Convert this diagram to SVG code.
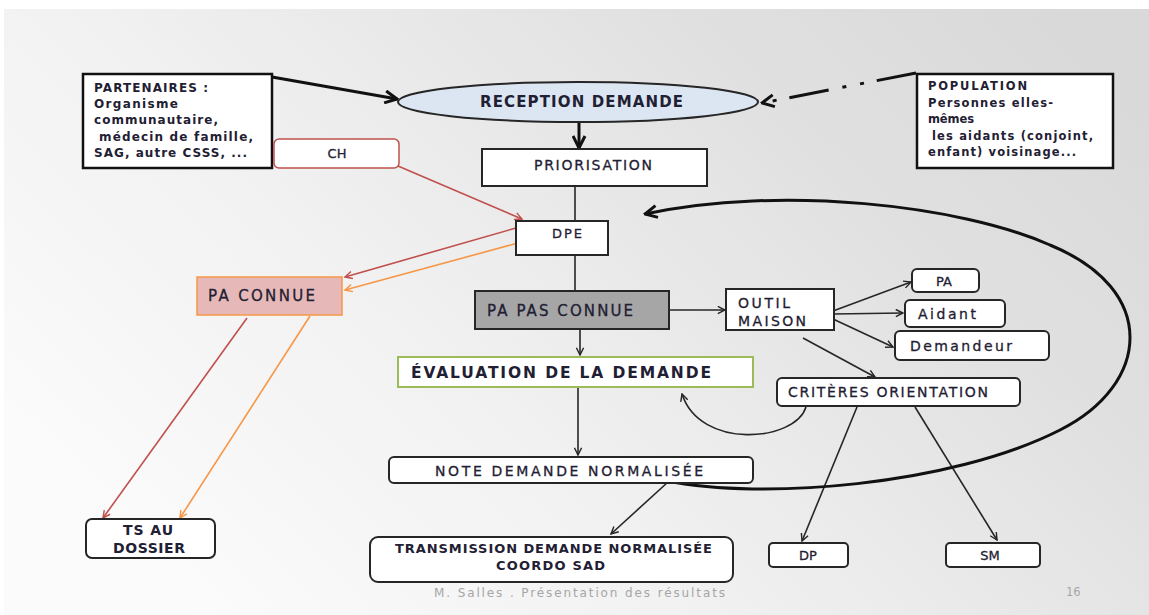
<svg xmlns="http://www.w3.org/2000/svg" width="1149" height="615" viewBox="0 0 1149 615">
  <defs>
    <linearGradient id="bg" x1="0" y1="0.7" x2="1" y2="0.15">
      <stop offset="0" stop-color="#fbfbfb"/>
      <stop offset="0.35" stop-color="#f1f1f1"/>
      <stop offset="0.75" stop-color="#e0e0e0"/>
      <stop offset="1" stop-color="#d9d9d9"/>
    </linearGradient>
    <!-- open V arrowheads -->
    <marker id="ahThin" viewBox="0 0 10 10" refX="9" refY="5" markerWidth="9" markerHeight="9" markerUnits="userSpaceOnUse" orient="auto">
      <path d="M1,1 L9,5 L1,9" fill="none" stroke="#262626" stroke-width="1.6"/>
    </marker>
    <marker id="ahThick" viewBox="0 0 10 10" refX="9" refY="5" markerWidth="15" markerHeight="15" markerUnits="userSpaceOnUse" orient="auto">
      <path d="M1,1 L9,5 L1,9" fill="none" stroke="#111" stroke-width="2"/>
    </marker>
    <marker id="ahRed" viewBox="0 0 10 10" refX="9" refY="5" markerWidth="9" markerHeight="9" markerUnits="userSpaceOnUse" orient="auto">
      <path d="M1,1 L9,5 L1,9" fill="none" stroke="#c0504d" stroke-width="1.6"/>
    </marker>
    <marker id="ahOrange" viewBox="0 0 10 10" refX="9" refY="5" markerWidth="9" markerHeight="9" markerUnits="userSpaceOnUse" orient="auto">
      <path d="M1,1 L9,5 L1,9" fill="none" stroke="#f79646" stroke-width="1.6"/>
    </marker>
    <style>
      .box{fill:#fff;stroke:#262626;stroke-width:2}
      .t{font-family:"DejaVu Sans","Liberation Sans",sans-serif;fill:#1f2033}
      .b{font-weight:bold}
      .m{stroke:#1f2033;stroke-width:0.3}
      .ln{fill:none;stroke:#262626;stroke-width:1.6}
      .thick{fill:none;stroke:#111;stroke-width:3}
      .red{fill:none;stroke:#c0504d;stroke-width:1.6}
      .orange{fill:none;stroke:#f79646;stroke-width:1.6}
      .foot{font-family:"DejaVu Sans","Liberation Sans",sans-serif;fill:#a6a6a6}
    </style>
  </defs>

  <!-- slide background -->
  <rect x="0" y="0" width="1149" height="615" fill="#fff"/>
  <rect x="4" y="9" width="1145" height="606" fill="url(#bg)"/>

  <g id="connectors">
    <path class="thick" d="M272,77 L397,99" marker-end="url(#ahThick)"/>
    <path class="thick" d="M916,73 L762,103" stroke-dasharray="40 13 4 14 4 14" marker-end="url(#ahThick)"/>
    <path class="thick" d="M579,123 L579,148" marker-end="url(#ahThick)"/>
    <path class="ln" d="M575,186 L575,292"/>
    <path class="red" d="M398,166 L522,219" marker-end="url(#ahRed)"/>
    <path class="red" d="M516,228 L345,277" marker-end="url(#ahRed)"/>
    <path class="orange" d="M518,243 L345,290" marker-end="url(#ahOrange)"/>
    <path class="red" d="M247,318 L103,518" marker-end="url(#ahRed)"/>
    <path class="orange" d="M310,316 L180,518" marker-end="url(#ahOrange)"/>
    <path class="ln" d="M669,310 L725,310" marker-end="url(#ahThin)"/>
    <path class="ln" d="M580,329 L580,355" marker-end="url(#ahThin)"/>
    <path class="ln" d="M578,387 L578,455" marker-end="url(#ahThin)"/>
    <path class="ln" d="M668,482 L611,534" marker-end="url(#ahThin)"/>
    <path class="ln" d="M833,311 L911,282" marker-end="url(#ahThin)"/>
    <path class="ln" d="M833,314 L903,313" marker-end="url(#ahThin)"/>
    <path class="ln" d="M833,319 L893,347" marker-end="url(#ahThin)"/>
    <path class="ln" d="M803,338 L875,377" marker-end="url(#ahThin)"/>
    <path class="ln" d="M806,407 C795,442 700,450 682,394" marker-end="url(#ahThin)"/>
    <path class="ln" d="M857,407 L802,541" marker-end="url(#ahThin)"/>
    <path class="ln" d="M915,407 L997,540" marker-end="url(#ahThin)"/>
    <path class="thick" d="M668,481 C760,500 950,486 1060,430 C1150,385 1160,290 1050,245 C960,205 780,185 645,214" marker-end="url(#ahThick)"/>
  </g>

  <g id="partenaires">
    <rect x="83" y="74" width="189" height="94" fill="#fff" stroke="#111" stroke-width="2.5"/>
    <text class="t b" font-size="12" x="94" y="92" textLength="114">PARTENAIRES :</text>
    <text class="t b" font-size="12" x="94" y="108" textLength="84">Organisme</text>
    <text class="t b" font-size="12" x="94" y="124" textLength="124">communautaire,</text>
    <text class="t b" font-size="12" x="99" y="141" textLength="154">médecin  de famille,</text>
    <text class="t b" font-size="12" x="94" y="157" textLength="153">SAG, autre CSSS, ...</text>
  </g>

  <g id="ch">
    <rect x="274" y="139" width="125" height="29" rx="5" fill="#fff" stroke="#c0504d" stroke-width="1.5"/>
    <text class="t m" font-size="13" x="337" y="158" text-anchor="middle">CH</text>
  </g>

  <g id="reception">
    <ellipse cx="578" cy="102" rx="180" ry="20" fill="#dce6f2" stroke="#262626" stroke-width="2"/>
    <text class="t b" font-size="15" x="480" y="107" textLength="203">RECEPTION  DEMANDE</text>
  </g>

  <g id="population">
    <rect x="917" y="74" width="196" height="94" fill="#fff" stroke="#111" stroke-width="2.5"/>
    <text class="t b" font-size="11.5" x="928" y="90" textLength="99">POPULATION</text>
    <text class="t b" font-size="11.5" x="928" y="107" textLength="125">Personnes elles-</text>
    <text class="t b" font-size="11.5" x="928" y="123" textLength="46">mêmes</text>
    <text class="t b" font-size="11.5" x="932" y="140" textLength="161">les aidants (conjoint,</text>
    <text class="t b" font-size="11.5" x="928" y="156" textLength="148">enfant) voisinage...</text>
  </g>

  <g id="priorisation">
    <rect class="box" x="482" y="149" width="225" height="37"/>
    <text class="t m" font-size="14" x="534" y="170" textLength="118">PRIORISATION</text>
  </g>

  <g id="dpe">
    <rect class="box" x="516" y="221" width="92" height="34"/>
    <text class="t m" font-size="13" x="552" y="238" textLength="30">DPE</text>
  </g>

  <g id="pa-connue">
    <rect x="197" y="277" width="145" height="38" fill="#e6b9b8" stroke="#f79646" stroke-width="1.5"/>
    <text class="t m" font-size="15" x="208" y="301" textLength="107">PA CONNUE</text>
  </g>

  <g id="pa-pas-connue">
    <rect x="475" y="291" width="194" height="38" fill="#a6a6a6" stroke="#262626" stroke-width="2"/>
    <text class="t m" font-size="15" x="487" y="316" textLength="146">PA PAS CONNUE</text>
  </g>

  <g id="outil-maison">
    <rect class="box" x="726" y="289" width="108" height="41"/>
    <text class="t m" font-size="14" x="738" y="308" textLength="52">OUTIL</text>
    <text class="t m" font-size="14" x="738" y="326" textLength="68">MAISON</text>
  </g>

  <g id="pa">
    <rect class="box" x="912" y="269" width="67" height="23" rx="5"/>
    <text class="t m" font-size="13" x="944" y="286" text-anchor="middle">PA</text>
  </g>

  <g id="aidant">
    <rect class="box" x="905" y="300" width="100" height="27" rx="5"/>
    <text class="t m" font-size="14" x="918" y="319" textLength="58">Aidant</text>
  </g>

  <g id="demandeur">
    <rect class="box" x="895" y="331" width="154" height="29" rx="5"/>
    <text class="t m" font-size="14" x="910" y="351" textLength="102">Demandeur</text>
  </g>

  <g id="evaluation">
    <rect x="398" y="357" width="355" height="30" fill="#fff" stroke="#9bbb59" stroke-width="2"/>
    <text class="t b" font-size="15.5" x="411" y="378" textLength="300">ÉVALUATION  DE LA DEMANDE</text>
  </g>

  <g id="criteres">
    <rect class="box" x="777" y="378" width="243" height="28" rx="5"/>
    <text class="t m" font-size="14" x="788" y="397" textLength="200">CRITÈRES  ORIENTATION</text>
  </g>

  <g id="note">
    <rect class="box" x="389" y="457" width="364" height="26" rx="5"/>
    <text class="t m" font-size="14" x="435" y="476" textLength="268">NOTE DEMANDE NORMALISÉE</text>
  </g>

  <g id="transmission">
    <rect class="box" x="370" y="537" width="363" height="45" rx="8"/>
    <text class="t b" font-size="13" x="395" y="553" textLength="317">TRANSMISSION DEMANDE NORMALISÉE</text>
    <text class="t b" font-size="13" x="496" y="570" textLength="109">COORDO SAD</text>
  </g>

  <g id="ts-au-dossier">
    <rect class="box" x="86" y="519" width="129" height="39" rx="6"/>
    <text class="t b" font-size="14" x="123" y="535" textLength="50">TS AU</text>
    <text class="t b" font-size="14" x="113" y="553" textLength="72">DOSSIER</text>
  </g>

  <g id="dp">
    <rect class="box" x="769" y="543" width="79" height="24" rx="4"/>
    <text class="t m" font-size="13" x="808" y="560" text-anchor="middle">DP</text>
  </g>

  <g id="sm">
    <rect class="box" x="946" y="543" width="94" height="24" rx="4"/>
    <text class="t m" font-size="13" x="990" y="560" text-anchor="middle">SM</text>
  </g>

  <!-- slide footer -->
  <text class="foot" font-size="12" x="434" y="597" textLength="291">M. Salles . Présentation des résultats</text>
  <text class="foot" font-size="11.5" x="1066" y="596">16</text>
</svg>
